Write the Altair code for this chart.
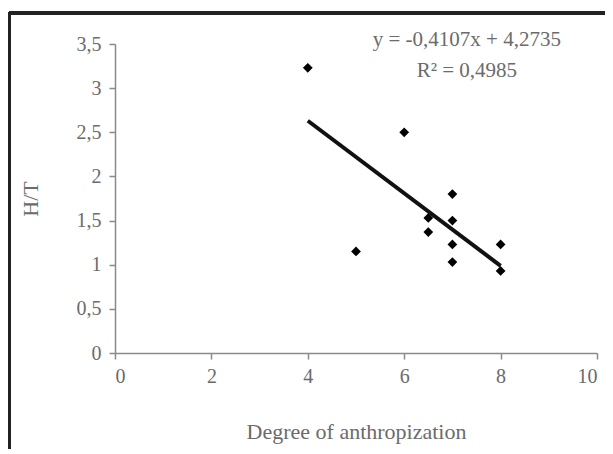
import altair as alt
import pandas as pd

# data
degree = [4, 6, 5, 7, 6.5, 7, 6.5, 7, 8, 7, 8]
ht = [3.23, 2.5, 1.15, 1.8, 1.53, 1.5, 1.37, 1.23, 1.23, 1.03, 0.93]
slope = -0.4107
intercept = 4.2735
fit_x = [4, 8]
eq_lines = ["y = -0,4107x + 4,2735", "R² = 0,4985"]
eq_x = [7.3, 7.3]
eq_y = [3.54, 3.19]

pts = pd.DataFrame({"x": degree, "y": ht})
fit = pd.DataFrame({"x": fit_x, "y": [slope * v + intercept for v in fit_x]})
eq = pd.DataFrame({"t": eq_lines, "x": eq_x, "y": eq_y})

FONT = "Liberation Serif"
GREY = "#6b6b6b"
lab = "replace(format(datum.value, '~g'), '.', ',')"

xs = alt.Scale(domain=[0, 10], nice=False)
ys = alt.Scale(domain=[0, 3.5], nice=False)

xax = alt.Axis(values=[0, 2, 4, 6, 8, 10], labelExpr=lab, title="Degree of anthropization",
               grid=False, tickSize=6, labelPadding=7, titlePadding=35)
yax = alt.Axis(values=[0, 0.5, 1, 1.5, 2, 2.5, 3, 3.5], labelExpr=lab, title="H/T",
               grid=False, tickSize=6, labelPadding=8, titlePadding=34)

points = alt.Chart(pts).mark_point(shape="diamond", filled=True, color="black", size=95, opacity=1).encode(
    x=alt.X("x:Q", scale=xs, axis=xax),
    y=alt.Y("y:Q", scale=ys, axis=yax),
)

line = alt.Chart(fit).mark_line(color="#111", strokeWidth=4).encode(
    x=alt.X("x:Q", scale=xs), y=alt.Y("y:Q", scale=ys)
)

text = alt.Chart(eq).mark_text(font=FONT, fontSize=21, color=GREY).encode(
    x=alt.X("x:Q", scale=xs), y=alt.Y("y:Q", scale=ys), text="t:N"
)

frame_top = alt.Chart(pts).mark_rule(color="#222", strokeWidth=3).encode(
    x=alt.value(-106), x2=alt.value(520), y=alt.value(-31)
)
frame_left = alt.Chart(pts).mark_rule(color="#222", strokeWidth=3).encode(
    x=alt.value(-106), y=alt.value(-32), y2=alt.value(430)
)

chart = alt.layer(frame_top, frame_left, line, points, text).properties(
    width=482, height=309,
    padding={"left": 107, "top": 36, "right": 8, "bottom": 96},
    autosize=alt.AutoSizeParams(type="none"),
    background="white",
).configure_view(stroke=None).configure_axis(
    labelFont=FONT, titleFont=FONT, labelFontSize=20, titleFontSize=22,
    labelColor=GREY, titleColor=GREY, titleFontWeight="normal",
    domainColor="#8a8a8a", tickColor="#8a8a8a", domainWidth=1.5, tickWidth=1.5,
)

chart.save("out.html", embed_options={"renderer": "svg", "actions": False})
